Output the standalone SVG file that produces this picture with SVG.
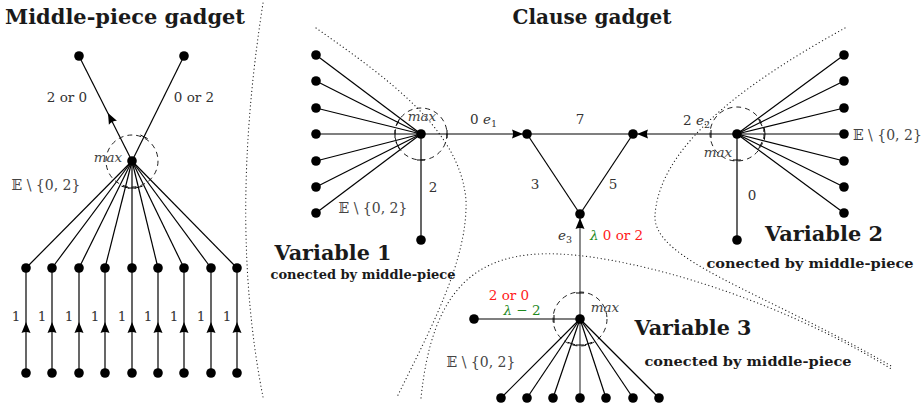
<svg xmlns="http://www.w3.org/2000/svg" width="923" height="409" viewBox="0 0 923 409">
<style>
.e{stroke:#000;stroke-width:1.2;fill:none}
.n{fill:#000}
.dot{stroke:#222;stroke-width:1.2;fill:none;stroke-dasharray:0.1 3.6;stroke-linecap:round}
.dc{stroke:#222;stroke-width:1;fill:none;stroke-dasharray:5 4}
.tk{stroke:#000;stroke-width:1;fill:none}
.lb{font-family:"DejaVu Serif","Liberation Serif",serif;font-size:13.5px;fill:#333}
.mx{font-family:"DejaVu Serif","Liberation Serif",serif;font-size:13.5px;font-style:italic;fill:#444}
.set{font-family:"DejaVu Serif","DejaVu Sans","Noto Sans",serif;font-size:14px;fill:#444}
.tt{font-family:"DejaVu Serif","Liberation Serif",serif;font-weight:bold;font-size:21px;fill:#1a1a1a}
.vt{font-family:"DejaVu Serif","Liberation Serif",serif;font-weight:bold;font-size:20px;fill:#1a1a1a}
.st{font-family:"DejaVu Serif","Liberation Serif",serif;font-weight:bold;font-size:13.5px;fill:#1a1a1a}
.red{fill:#ff1a1a}
.grn{fill:#1f8a1f}
.ar{fill:none;stroke:none}
</style>
<defs>
<marker id="arr" markerUnits="userSpaceOnUse" markerWidth="13" markerHeight="10" refX="11" refY="5" orient="auto">
<path d="M0,0.5 L11,5 L0,9.5 Q2,5 0,0.5 Z" fill="#000"/>
</marker>
</defs>

<g id="separators">
<path class="dot" d="M263,3 C240,150 240,280 263,397"/>
<path class="dot" d="M316,28 C390,80 460,130 466,200 C468,260 430,330 397,397"/>
<path class="dot" d="M421,398 C432,290 475,250 560,254 C640,258 780,300 893,370"/>
<path class="dot" d="M845,28 C760,75 660,140 655,215 C652,260 760,290 893,367"/>
</g>

<g id="connectors">
<!-- middle-piece gadget -->
<line class="e" x1="132" y1="161" x2="79" y2="56"/>
<line class="e" x1="132" y1="161" x2="184" y2="56"/>
<line class="e" x1="132" y1="161" x2="26" y2="268"/>
<line class="e" x1="132" y1="161" x2="52" y2="268"/>
<line class="e" x1="132" y1="161" x2="79" y2="268"/>
<line class="e" x1="132" y1="161" x2="105" y2="268"/>
<line class="e" x1="132" y1="161" x2="132" y2="268"/>
<line class="e" x1="132" y1="161" x2="158" y2="268"/>
<line class="e" x1="132" y1="161" x2="184" y2="268"/>
<line class="e" x1="132" y1="161" x2="211" y2="268"/>
<line class="e" x1="132" y1="161" x2="237" y2="268"/>
<line class="e" x1="26" y1="373" x2="26" y2="268"/>
<line class="e" x1="52" y1="373" x2="52" y2="268"/>
<line class="e" x1="79" y1="373" x2="79" y2="268"/>
<line class="e" x1="105" y1="373" x2="105" y2="268"/>
<line class="e" x1="132" y1="373" x2="132" y2="268"/>
<line class="e" x1="158" y1="373" x2="158" y2="268"/>
<line class="e" x1="184" y1="373" x2="184" y2="268"/>
<line class="e" x1="211" y1="373" x2="211" y2="268"/>
<line class="e" x1="237" y1="373" x2="237" y2="268"/>
<path class="ar" marker-end="url(#arr)" d="M114,125 L108,113"/>
<path class="ar" marker-end="url(#arr)" d="M26,335 L26,322"/>
<path class="ar" marker-end="url(#arr)" d="M52,335 L52,322"/>
<path class="ar" marker-end="url(#arr)" d="M79,335 L79,322"/>
<path class="ar" marker-end="url(#arr)" d="M105,335 L105,322"/>
<path class="ar" marker-end="url(#arr)" d="M132,335 L132,322"/>
<path class="ar" marker-end="url(#arr)" d="M158,335 L158,322"/>
<path class="ar" marker-end="url(#arr)" d="M184,335 L184,322"/>
<path class="ar" marker-end="url(#arr)" d="M211,335 L211,322"/>
<path class="ar" marker-end="url(#arr)" d="M237,335 L237,322"/>
<circle class="dc" cx="132" cy="161" r="26"/>
<path class="tk" d="M128,188 L136,188 M121.5,186.2 L129.3,188.2 M134.7,188.2 L142.5,186.2 M140.4,135 L147.6,138.6"/>

<!-- variable 1 -->
<line class="e" x1="421" y1="134" x2="316" y2="55"/>
<line class="e" x1="421" y1="134" x2="316" y2="81"/>
<line class="e" x1="421" y1="134" x2="316" y2="108"/>
<line class="e" x1="421" y1="134" x2="316" y2="134"/>
<line class="e" x1="421" y1="134" x2="316" y2="161"/>
<line class="e" x1="421" y1="134" x2="316" y2="187"/>
<line class="e" x1="421" y1="134" x2="316" y2="213"/>
<line class="e" x1="421" y1="134" x2="421" y2="240"/>
<circle class="dc" cx="421" cy="134" r="26"/>
<path class="tk" d="M396,125.9 L399.6,118.7 M395,130 L395,138 M396,142.1 L399.6,149.3 M447,130 L447,138 M417,160 L425,160"/>

<!-- triangle / clause -->
<line class="e" x1="421" y1="134" x2="527" y2="134"/>
<line class="e" x1="527" y1="134" x2="633" y2="134"/>
<line class="e" x1="633" y1="134" x2="737" y2="134"/>
<line class="e" x1="527" y1="134" x2="580" y2="214"/>
<line class="e" x1="633" y1="134" x2="580" y2="214"/>
<line x1="580" y1="214" x2="580" y2="398" stroke="#666" stroke-width="1.5"/>
<path class="ar" marker-end="url(#arr)" d="M510,134 L523,134"/>
<path class="ar" marker-end="url(#arr)" d="M650,134 L637,134"/>
<path class="ar" marker-end="url(#arr)" d="M580,231 L580,218"/>

<!-- variable 2 -->
<line class="e" x1="737" y1="134" x2="844" y2="55"/>
<line class="e" x1="737" y1="134" x2="844" y2="81"/>
<line class="e" x1="737" y1="134" x2="844" y2="108"/>
<line class="e" x1="737" y1="134" x2="844" y2="134"/>
<line class="e" x1="737" y1="134" x2="844" y2="161"/>
<line class="e" x1="737" y1="134" x2="844" y2="187"/>
<line class="e" x1="737" y1="134" x2="844" y2="213"/>
<line class="e" x1="737" y1="134" x2="737" y2="240"/>
<circle class="dc" cx="737" cy="134" r="27"/>
<path class="tk" d="M711,130 L711,138 M758.5,118.9 L762.1,126.1 M762.1,141.9 L758.5,149.1 M764.4,128.2 A28,28 0 0 1 764.4,139.8 M733,160 L741,160"/>

<!-- variable 3 -->
<line class="e" x1="580" y1="319" x2="474" y2="319"/>
<line class="e" x1="580" y1="319" x2="501" y2="398"/>
<line class="e" x1="580" y1="319" x2="527" y2="398"/>
<line class="e" x1="580" y1="319" x2="553" y2="398"/>
<line class="e" x1="580" y1="319" x2="606" y2="398"/>
<line class="e" x1="580" y1="319" x2="633" y2="398"/>
<line class="e" x1="580" y1="319" x2="659" y2="398"/>
<circle class="dc" cx="580" cy="319" r="27"/>
<path class="tk" d="M576,293 L584,293 M554,315 L554,323 M567.8,342.3 L575.4,344.9 M584.6,344.9 L592.2,342.3 M576,345 L584,345"/>
</g>

<g id="middle-piece">
<text class="tt" x="125" y="24" text-anchor="middle" textLength="240" lengthAdjust="spacingAndGlyphs">Middle-piece gadget</text>
<circle class="n" cx="79" cy="56" r="4.8"/>
<circle class="n" cx="184" cy="56" r="4.8"/>
<circle class="n" cx="132" cy="161" r="4.8"/>
<g id="mp-top">
<circle class="n" cx="26" cy="268" r="4.8"/><circle class="n" cx="52" cy="268" r="4.8"/><circle class="n" cx="79" cy="268" r="4.8"/>
<circle class="n" cx="105" cy="268" r="4.8"/><circle class="n" cx="132" cy="268" r="4.8"/><circle class="n" cx="158" cy="268" r="4.8"/>
<circle class="n" cx="184" cy="268" r="4.8"/><circle class="n" cx="211" cy="268" r="4.8"/><circle class="n" cx="237" cy="268" r="4.8"/>
</g>
<g id="mp-bottom">
<circle class="n" cx="26" cy="373" r="4.8"/><circle class="n" cx="52" cy="373" r="4.8"/><circle class="n" cx="79" cy="373" r="4.8"/>
<circle class="n" cx="105" cy="373" r="4.8"/><circle class="n" cx="132" cy="373" r="4.8"/><circle class="n" cx="158" cy="373" r="4.8"/>
<circle class="n" cx="184" cy="373" r="4.8"/><circle class="n" cx="211" cy="373" r="4.8"/><circle class="n" cx="237" cy="373" r="4.8"/>
</g>
<text class="lb" x="67" y="102" text-anchor="middle">2 or 0</text>
<text class="lb" x="194" y="102" text-anchor="middle">0 or 2</text>
<text class="mx" x="108" y="162" text-anchor="middle">max</text>
<text class="set" x="46" y="190" text-anchor="middle">𝔼 \ {0, 2}</text>
<g class="lb" text-anchor="middle">
<text x="16" y="321">1</text><text x="42" y="321">1</text><text x="69" y="321">1</text>
<text x="95" y="321">1</text><text x="122" y="321">1</text><text x="148" y="321">1</text>
<text x="174" y="321">1</text><text x="201" y="321">1</text><text x="227" y="321">1</text>
</g>
</g>

<g id="clause">
<text class="tt" x="592" y="24" text-anchor="middle" textLength="159" lengthAdjust="spacingAndGlyphs">Clause gadget</text>
<circle class="n" cx="527" cy="134" r="4.8"/>
<circle class="n" cx="633" cy="134" r="4.8"/>
<circle class="n" cx="580" cy="214" r="4.8"/>
<text class="lb" x="470" y="124">0 <tspan font-style="italic">e</tspan><tspan font-size="9.5" dy="3">1</tspan></text>
<text class="lb" x="580" y="124" text-anchor="middle">7</text>
<text class="lb" x="535" y="189" text-anchor="middle">3</text>
<text class="lb" x="613" y="189" text-anchor="middle">5</text>
<text class="lb" x="683" y="125">2 <tspan font-style="italic">e</tspan><tspan font-size="9.5" dy="3">2</tspan></text>
<text class="lb" x="558" y="240"><tspan font-style="italic">e</tspan><tspan font-size="9.5" dy="3">3</tspan></text>
<text class="lb" x="590" y="240"><tspan class="grn" font-style="italic">λ</tspan><tspan class="red"> 0 or 2</tspan></text>
</g>

<g id="variable-1">
<circle class="n" cx="421" cy="134" r="4.8"/>
<circle class="n" cx="316" cy="55" r="4.8"/><circle class="n" cx="316" cy="81" r="4.8"/><circle class="n" cx="316" cy="108" r="4.8"/>
<circle class="n" cx="316" cy="134" r="4.8"/><circle class="n" cx="316" cy="161" r="4.8"/><circle class="n" cx="316" cy="187" r="4.8"/>
<circle class="n" cx="316" cy="213" r="4.8"/>
<circle class="n" cx="421" cy="240" r="4.8"/>
<text class="mx" x="422" y="121" text-anchor="middle">max</text>
<text class="lb" x="433" y="192" text-anchor="middle">2</text>
<text class="set" x="373" y="213" text-anchor="middle">𝔼 \ {0, 2}</text>
<text class="vt" x="333" y="260" text-anchor="middle" textLength="117" lengthAdjust="spacingAndGlyphs">Variable 1</text>
<text class="st" x="363" y="279" text-anchor="middle" textLength="185" lengthAdjust="spacingAndGlyphs" font-size="12.5">conected by middle-piece</text>
</g>

<g id="variable-2">
<circle class="n" cx="737" cy="134" r="4.8"/>
<circle class="n" cx="844" cy="55" r="4.8"/><circle class="n" cx="844" cy="81" r="4.8"/><circle class="n" cx="844" cy="108" r="4.8"/>
<circle class="n" cx="844" cy="134" r="4.8"/><circle class="n" cx="844" cy="161" r="4.8"/><circle class="n" cx="844" cy="187" r="4.8"/>
<circle class="n" cx="844" cy="213" r="4.8"/>
<circle class="n" cx="737" cy="240" r="4.8"/>
<text class="mx" x="718" y="157" text-anchor="middle">max</text>
<text class="lb" x="752" y="200" text-anchor="middle">0</text>
<text class="set" x="853" y="140">𝔼 \ {0, 2}</text>
<text class="vt" x="824" y="241" text-anchor="middle" textLength="118" lengthAdjust="spacingAndGlyphs">Variable 2</text>
<text class="st" x="810" y="268" text-anchor="middle" textLength="207" lengthAdjust="spacingAndGlyphs">conected by middle-piece</text>
</g>

<g id="variable-3">
<circle class="n" cx="580" cy="319" r="4.8"/>
<circle class="n" cx="474" cy="319" r="4.8"/>
<circle class="n" cx="501" cy="398" r="4.8"/><circle class="n" cx="527" cy="398" r="4.8"/><circle class="n" cx="553" cy="398" r="4.8"/>
<circle class="n" cx="580" cy="398" r="4.8"/><circle class="n" cx="606" cy="398" r="4.8"/><circle class="n" cx="633" cy="398" r="4.8"/>
<circle class="n" cx="659" cy="398" r="4.8"/>
<text class="lb red" x="509" y="300" text-anchor="middle">2 or 0</text>
<text class="lb grn" x="522" y="315" text-anchor="middle"><tspan font-style="italic">λ</tspan> − 2</text>
<text class="mx" x="605" y="312" text-anchor="middle">max</text>
<text class="set" x="481" y="367" text-anchor="middle">𝔼 \ {0, 2}</text>
<text class="vt" x="693" y="335" text-anchor="middle" textLength="117" lengthAdjust="spacingAndGlyphs">Variable 3</text>
<text class="st" x="748" y="366" text-anchor="middle" textLength="207" lengthAdjust="spacingAndGlyphs">conected by middle-piece</text>
</g>
</svg>
